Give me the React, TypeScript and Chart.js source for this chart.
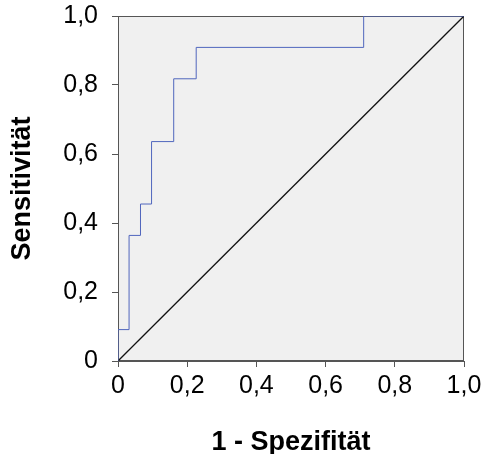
import React, { useEffect, useRef } from "react";
import { Chart, registerables } from "chart.js";

Chart.register(...registerables);

// ROC curve points (1 - specificity, sensitivity), drawn as a step line
const fpr = [0, 0, 0.032, 0.065, 0.097, 0.161, 0.226, 0.71, 1];
const tpr = [0, 0.091, 0.364, 0.455, 0.636, 0.818, 0.909, 1, 1];
// reference diagonal
const refX = [0, 1];
const refY = [0, 1];
const tickValues = [0, 0.2, 0.4, 0.6, 0.8, 1.0];
const tickLabels = ["0", "0,2", "0,4", "0,6", "0,8", "1,0"];
const xTitle = "1 - Spezifität";
const yTitle = "Sensitivität";

const FONT = "Arial, 'Liberation Sans', Helvetica, sans-serif";
const AXIS = "#555555";

function labelFor(v: number): string {
  const i = tickValues.findIndex((t) => Math.abs(t - v) < 1e-6);
  return i >= 0 ? tickLabels[i] : "";
}

const plotFrame = {
  id: "plotFrame",
  beforeDatasetsDraw(chart: any) {
    const { ctx, chartArea } = chart;
    const { left, top, right, bottom } = chartArea;
    ctx.save();
    ctx.fillStyle = "#f0f0f0";
    ctx.fillRect(left, top, right - left, bottom - top);
    ctx.strokeStyle = AXIS;
    ctx.lineWidth = 1;
    ctx.strokeRect(left + 0.5, top + 0.5, right - left - 1, bottom - top - 1);
    ctx.restore();
  },
};

export default function App() {
  const ref = useRef<HTMLCanvasElement | null>(null);
  useEffect(() => {
    document.body.style.margin = "0";
    const canvas = ref.current;
    if (!canvas) return;
    const chart = new Chart(canvas, {
      type: "scatter",
      data: {
        datasets: [
          {
            data: fpr.map((x, i) => ({ x, y: tpr[i] })),
            showLine: true,
            stepped: "before",
            borderColor: "#5066bd",
            borderWidth: 1,
            pointRadius: 0,
            fill: false,
          },
          {
            data: refX.map((x, i) => ({ x, y: refY[i] })),
            showLine: true,
            borderColor: "#111111",
            borderWidth: 1.3,
            pointRadius: 0,
            fill: false,
          },
        ],
      },
      plugins: [plotFrame],
      options: {
        animation: false,
        responsive: false,
        maintainAspectRatio: false,
        layout: { padding: { top: 16, right: 18, left: 0, bottom: 0 } },
        plugins: { legend: { display: false }, tooltip: { enabled: false } },
        scales: {
          x: {
            type: "linear",
            min: 0,
            max: 1,
            afterBuildTicks: (s: any) => {
              s.ticks = tickValues.map((v) => ({ value: v }));
            },
            afterFit: (s: any) => {
              s.height = 93;
              s.paddingLeft = 0;
              s.paddingRight = 0;
            },
            ticks: {
              callback: (v: any) => labelFor(Number(v)),
              color: "#000",
              font: { family: FONT, size: 25, lineHeight: 1.2 },
              padding: 4,
              maxRotation: 0,
              autoSkip: false,
            },
            grid: {
              drawOnChartArea: false,
              drawTicks: true,
              tickLength: 6,
              color: AXIS,
            },
            border: { color: AXIS, width: 1 },
            title: {
              display: true,
              text: xTitle,
              color: "#000",
              font: { family: FONT, size: 27, weight: "bold", lineHeight: 1 },
              padding: { top: 0, bottom: -2 },
            },
          },
          y: {
            type: "linear",
            min: 0,
            max: 1,
            afterBuildTicks: (s: any) => {
              s.ticks = tickValues.map((v) => ({ value: v }));
            },
            afterFit: (s: any) => {
              s.width = 118;
              s.paddingTop = 0;
              s.paddingBottom = 0;
            },
            ticks: {
              callback: (v: any) => labelFor(Number(v)),
              color: "#000",
              font: { family: FONT, size: 25, lineHeight: 1.2 },
              padding: 14,
              autoSkip: false,
            },
            grid: {
              drawOnChartArea: false,
              drawTicks: true,
              tickLength: 6,
              color: AXIS,
            },
            border: { color: AXIS, width: 1 },
            title: {
              display: true,
              text: yTitle,
              color: "#000",
              font: { family: FONT, size: 27, weight: "bold", lineHeight: 1 },
              padding: { top: 9, bottom: 0 },
            },
          },
        },
      },
    });
    return () => chart.destroy();
  }, []);
  return (
    <div style={{ position: "fixed", left: 0, top: 0, width: 482, height: 454 }}>
      <canvas ref={ref} width={482} height={454} style={{ width: 482, height: 454 }} />
    </div>
  );
}
